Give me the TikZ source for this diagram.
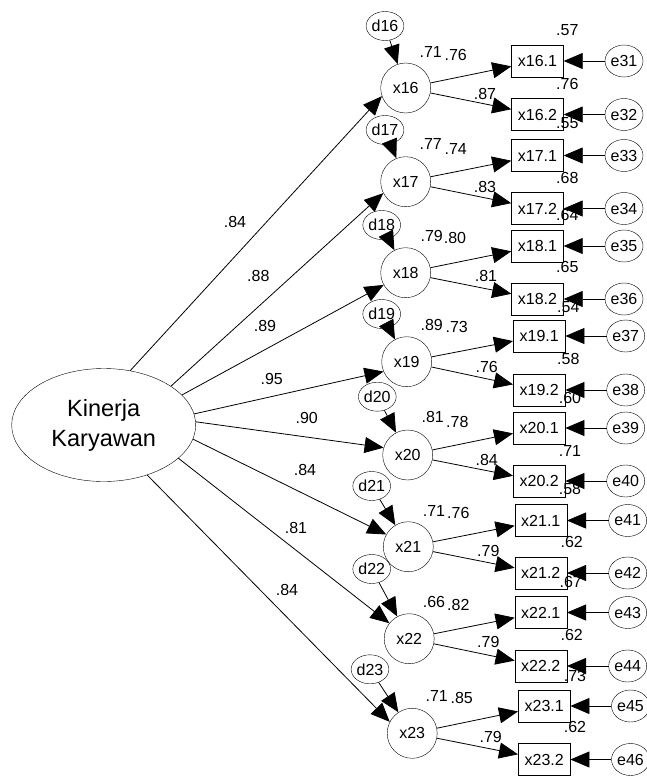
\documentclass[tikz,border=0pt]{standalone}
\usepackage{fontspec}
\setmainfont{Liberation Sans}
\usetikzlibrary{arrows.meta,shapes.geometric}

\begin{document}
\begin{tikzpicture}[x=1pt,y=-1pt,
    every node/.style={font=\fontsize{16}{18}\selectfont},
    lv/.style={circle,draw,minimum size=50pt,inner sep=0pt},
    dv/.style={ellipse,draw,minimum width=34pt,minimum height=29pt,inner sep=0pt},
    ev/.style={ellipse,draw,minimum width=38pt,minimum height=32pt,inner sep=0pt},
    ov/.style={rectangle,draw,minimum width=52pt,minimum height=32pt,inner sep=0pt},
    lab/.style={inner sep=0pt},
    every edge/.style={draw,line width=0.8pt,-{Triangle[length=19pt,width=16pt]}}
  ]
  \useasboundingbox (0,0) rectangle (647,776);
  \node[ellipse,draw,minimum width=184pt,minimum height=113pt,inner sep=0pt,
        align=center,font=\fontsize{23.5}{30}\selectfont] (K) at (103.7,425) {Kinerja\\Karyawan};

  % first order factors
  \node[lv] (x16) at (405.7,88) {x16};
  \node[lv] (x17) at (405.7,181.7) {x17};
  \node[lv] (x18) at (405.7,272.7) {x18};
  \node[lv] (x19) at (406.7,361.7) {x19};
  \node[lv] (x20) at (407.7,455) {x20};
  \node[lv] (x21) at (408.3,546.7) {x21};
  \node[lv] (x22) at (409.2,638.7) {x22};
  \node[lv] (x23) at (412.2,733.3) {x23};

  % disturbances
  \node[dv] (d16) at (385,26) {d16};
  \node[dv] (d17) at (385,130) {d17};
  \node[dv] (d18) at (381.7,225) {d18};
  \node[dv] (d19) at (381.7,314) {d19};
  \node[dv] (d20) at (377.3,396.7) {d20};
  \node[dv] (d21) at (371.7,486) {d21};
  \node[dv] (d22) at (371.7,569) {d22};
  \node[dv] (d23) at (370,669.3) {d23};

  % indicators
  \node[ov] (x161) at (537.5,61) {x16.1};
  \node[ov] (x162) at (537.5,114.5) {x16.2};
  \node[ov] (x171) at (537.5,155.5) {x17.1};
  \node[ov] (x172) at (537.5,208.5) {x17.2};
  \node[ov] (x181) at (537.5,246) {x18.1};
  \node[ov] (x182) at (537.5,299) {x18.2};
  \node[ov] (x191) at (539.2,336) {x19.1};
  \node[ov] (x192) at (539.2,390) {x19.2};
  \node[ov] (x201) at (539.2,428) {x20.1};
  \node[ov] (x202) at (539.2,481) {x20.2};
  \node[ov] (x211) at (540.8,520.5) {x21.1};
  \node[ov] (x212) at (540.8,573) {x21.2};
  \node[ov] (x221) at (540.8,612.5) {x22.1};
  \node[ov] (x222) at (540.8,666) {x22.2};
  \node[ov] (x231) at (544.2,706) {x23.1};
  \node[ov] (x232) at (544.2,759.5) {x23.2};

  % errors
  \node[ev] (e31) at (624,61) {e31};
  \node[ev] (e32) at (624,114.5) {e32};
  \node[ev] (e33) at (624,155.5) {e33};
  \node[ev] (e34) at (624,208.5) {e34};
  \node[ev] (e35) at (624,246) {e35};
  \node[ev] (e36) at (624,299) {e36};
  \node[ev] (e37) at (625.7,336) {e37};
  \node[ev] (e38) at (625.7,390) {e38};
  \node[ev] (e39) at (625.7,428) {e39};
  \node[ev] (e40) at (625.7,481) {e40};
  \node[ev] (e41) at (627.7,520.5) {e41};
  \node[ev] (e42) at (627.7,573) {e42};
  \node[ev] (e43) at (627.7,612.5) {e43};
  \node[ev] (e44) at (627.7,666) {e44};
  \node[ev] (e45) at (630.5,706) {e45};
  \node[ev] (e46) at (630.5,759.5) {e46};

  % paths
  \draw (K.64) edge (x16.199) (K.30.5) edge (x17.207) (K.21.9) edge (x18.209)
        (K.7.3) edge (x19.203) (K.2.1) edge (x20.163.6) (K.-9.3) edge (x21.151.5)
        (K.-24.6) edge (x22.142.8) (K.-49.3) edge (x23.153.5);
  \draw (d16) edge (x16) (d17) edge (x17) (d18) edge (x18) (d19) edge (x19)
        (d20) edge (x20) (d21) edge (x21) (d22) edge (x22) (d23) edge (x23);
  \draw (x16) edge (x161) (x16) edge (x162) (x17) edge (x171) (x17) edge (x172)
        (x18) edge (x181) (x18) edge (x182) (x19) edge (x191) (x19) edge (x192)
        (x20) edge (x201) (x20) edge (x202) (x21) edge (x211) (x21) edge (x212)
        (x22) edge (x221) (x22) edge (x222) (x23) edge (x231) (x23) edge (x232);
  \draw (e31) edge (x161) (e32) edge (x162) (e33) edge (x171) (e34) edge (x172)
        (e35) edge (x181) (e36) edge (x182) (e37) edge (x191) (e38) edge (x192)
        (e39) edge (x201) (e40) edge (x202) (e41) edge (x211) (e42) edge (x212)
        (e43) edge (x221) (e44) edge (x222) (e45) edge (x231) (e46) edge (x232);

  % second order loadings
  \node[lab] (lk16) at (235,221.7) {.84};
  \node[lab] (lk17) at (258.3,276) {.88};
  \node[lab] (lk18) at (265,325.7) {.89};
  \node[lab] (lk19) at (271.7,379) {.95};
  \node[lab] (lk20) at (306.7,418.3) {.90};
  \node[lab] (lk21) at (305,470) {.84};
  \node[lab] (lk22) at (296,528) {.81};
  \node[lab] (lk23) at (287,590) {.84};

  % squared multiple correlations of factors
  \node[lab] (lr16) at (430.7,51.7) {.71};
  \node[lab] (lr17) at (430.7,144) {.77};
  \node[lab] (lr18) at (431.7,235.7) {.79};
  \node[lab] (lr19) at (431.7,325) {.89};
  \node[lab] (lr20) at (432.7,417.3) {.81};
  \node[lab] (lr21) at (434,510.7) {.71};
  \node[lab] (lr22) at (434,602.3) {.66};
  \node[lab] (lr23) at (436.7,695.7) {.71};

  % first order loadings
  \node[lab] (la16) at (455.7,55.3) {.76};
  \node[lab] (lb16) at (485,94) {.87};
  \node[lab] (la17) at (455.7,149) {.74};
  \node[lab] (lb17) at (485,187.3) {.83};
  \node[lab] (la18) at (455,237.7) {.80};
  \node[lab] (lb18) at (486,276) {.81};
  \node[lab] (la19) at (456.7,327.3) {.73};
  \node[lab] (lb19) at (486.7,366.7) {.76};
  \node[lab] (la20) at (457.3,421.7) {.78};
  \node[lab] (lb20) at (486.7,460) {.84};
  \node[lab] (la21) at (458.3,513.3) {.76};
  \node[lab] (lb21) at (488.3,550.7) {.79};
  \node[lab] (la22) at (458.3,605) {.82};
  \node[lab] (lb22) at (488.3,642.3) {.79};
  \node[lab] (la23) at (461.7,698.3) {.85};
  \node[lab] (lb23) at (490.7,736.7) {.79};

  % squared multiple correlations of indicators
  \node[lab] (ls161) at (567.3,30) {.57};
  \node[lab] (ls162) at (567.3,84) {.76};
  \node[lab] (ls171) at (567.3,123.3) {.55};
  \node[lab] (ls172) at (567.3,177.7) {.68};
  \node[lab] (ls181) at (567.3,215) {.64};
  \node[lab] (ls182) at (567.3,267.3) {.65};
  \node[lab] (ls191) at (568.3,306.7) {.54};
  \node[lab] (ls192) at (568.3,359.3) {.58};
  \node[lab] (ls201) at (570,398.3) {.60};
  \node[lab] (ls202) at (570,450.7) {.71};
  \node[lab] (ls211) at (570,489.3) {.58};
  \node[lab] (ls212) at (571.7,542.3) {.62};
  \node[lab] (ls221) at (570.7,582.3) {.67};
  \node[lab] (ls222) at (571.7,635) {.62};
  \node[lab] (ls231) at (575,676) {.73};
  \node[lab] (ls232) at (575,727.3) {.62};
\end{tikzpicture}
\end{document}
